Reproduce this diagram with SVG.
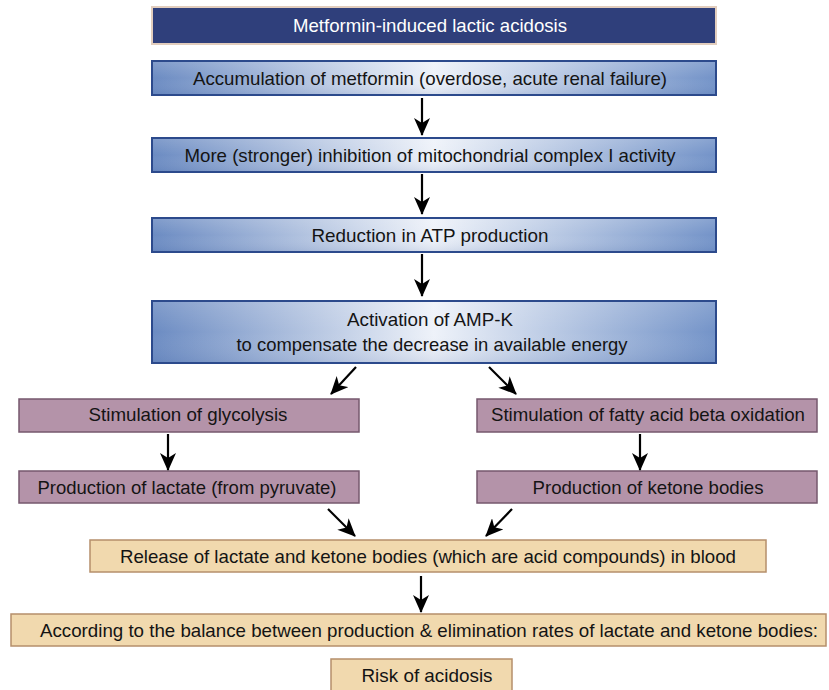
<svg xmlns="http://www.w3.org/2000/svg" width="829" height="690" viewBox="0 0 829 690">
<defs>
<linearGradient id="blueGrad" x1="0" y1="0" x2="1" y2="0">
<stop offset="0" stop-color="#6b8bc2"/>
<stop offset="0.5" stop-color="#eef2f9"/>
<stop offset="1" stop-color="#7393c8"/>
</linearGradient>
<linearGradient id="sheen" x1="0" y1="0" x2="0" y2="1">
<stop offset="0" stop-color="#ffffff" stop-opacity="0.15"/>
<stop offset="0.5" stop-color="#ffffff" stop-opacity="0"/>
<stop offset="1" stop-color="#3a5a9a" stop-opacity="0.12"/>
</linearGradient>
<marker id="ah" viewBox="0 0 18 16" refX="17" refY="8" markerWidth="18" markerHeight="16" markerUnits="userSpaceOnUse" orient="auto">
<path d="M0,0 L18,8 L0,16 L5,8 z" fill="#000"/>
</marker>
<style>
text{font-family:"Liberation Sans",Arial,sans-serif;font-size:18.5px;text-anchor:middle;fill:#141414}
.title rect{fill:#2f3f7b;stroke:#e2cdbd;stroke-width:2}
.title text{fill:#ffffff}
.blue rect.b{fill:url(#blueGrad);stroke:#2c4a8c;stroke-width:2}
.blue rect.s{fill:url(#sheen);stroke:none}
.purple rect{fill:#b493a9;stroke:#76586e;stroke-width:1.5}
.tan rect{fill:#f1d9ae;stroke:#b58f6b;stroke-width:1.5}
.conn line{stroke:#000;stroke-width:2.2;marker-end:url(#ah)}
</style>
</defs>
<rect width="829" height="690" fill="#ffffff"/>

<g id="n1" class="title"><rect x="152" y="7" width="564" height="37"/><text x="430" y="32" textLength="274" lengthAdjust="spacingAndGlyphs">Metformin-induced lactic acidosis</text></g>
<g id="n2" class="blue"><rect class="b" x="152" y="61" width="564" height="34"/><rect class="s" x="153" y="62" width="562" height="32"/><text x="430" y="85" textLength="474" lengthAdjust="spacingAndGlyphs">Accumulation of metformin (overdose, acute renal failure)</text></g>
<g id="n3" class="blue"><rect class="b" x="152" y="138" width="564" height="34"/><rect class="s" x="153" y="139" width="562" height="32"/><text x="430" y="162" textLength="491" lengthAdjust="spacingAndGlyphs">More (stronger) inhibition of mitochondrial complex I activity</text></g>
<g id="n4" class="blue"><rect class="b" x="152" y="218" width="564" height="34"/><rect class="s" x="153" y="219" width="562" height="32"/><text x="430" y="242" textLength="237" lengthAdjust="spacingAndGlyphs">Reduction in ATP production</text></g>
<g id="n5" class="blue"><rect class="b" x="152" y="301" width="564" height="62"/><rect class="s" x="153" y="302" width="562" height="60"/><text x="430" y="326" textLength="166" lengthAdjust="spacingAndGlyphs">Activation of AMP-K</text><text x="432" y="351" textLength="391" lengthAdjust="spacingAndGlyphs">to compensate the decrease in available energy</text></g>
<g id="n6" class="purple"><rect x="19" y="399" width="340" height="33"/><text x="188" y="421" textLength="199" lengthAdjust="spacingAndGlyphs">Stimulation of glycolysis</text></g>
<g id="n7" class="purple"><rect x="477" y="399" width="340" height="33"/><text x="648" y="421" textLength="314" lengthAdjust="spacingAndGlyphs">Stimulation of fatty acid beta oxidation</text></g>
<g id="n8" class="purple"><rect x="19" y="471" width="340" height="32"/><text x="187" y="494" textLength="299" lengthAdjust="spacingAndGlyphs">Production of lactate (from pyruvate)</text></g>
<g id="n9" class="purple"><rect x="477" y="471" width="340" height="32"/><text x="648" y="494" textLength="231" lengthAdjust="spacingAndGlyphs">Production of ketone bodies</text></g>
<g id="n10" class="tan"><rect x="90" y="540" width="676" height="32"/><text x="428" y="563" textLength="616" lengthAdjust="spacingAndGlyphs">Release of lactate and ketone bodies (which are acid compounds) in blood</text></g>
<g id="n11" class="tan"><rect x="11" y="614" width="815" height="32"/><text x="429" y="637" textLength="778" lengthAdjust="spacingAndGlyphs">According to the balance between production &amp; elimination rates of lactate and ketone bodies:</text></g>
<g id="n12" class="tan"><rect x="331" y="659" width="181" height="34"/><text x="427" y="682" textLength="131" lengthAdjust="spacingAndGlyphs">Risk of acidosis</text></g>

<g id="connectors" class="conn">
<line x1="422" y1="98" x2="422" y2="135"/>
<line x1="422" y1="174" x2="422" y2="214"/>
<line x1="422" y1="254" x2="422" y2="296"/>
<line x1="356" y1="367" x2="331" y2="394"/>
<line x1="489" y1="367" x2="516" y2="394"/>
<line x1="168" y1="434" x2="168" y2="470"/>
<line x1="640" y1="434" x2="640" y2="470"/>
<line x1="328" y1="509" x2="355" y2="536"/>
<line x1="512" y1="509" x2="486" y2="536"/>
<line x1="421" y1="576" x2="421" y2="612"/>
</g>
</svg>
